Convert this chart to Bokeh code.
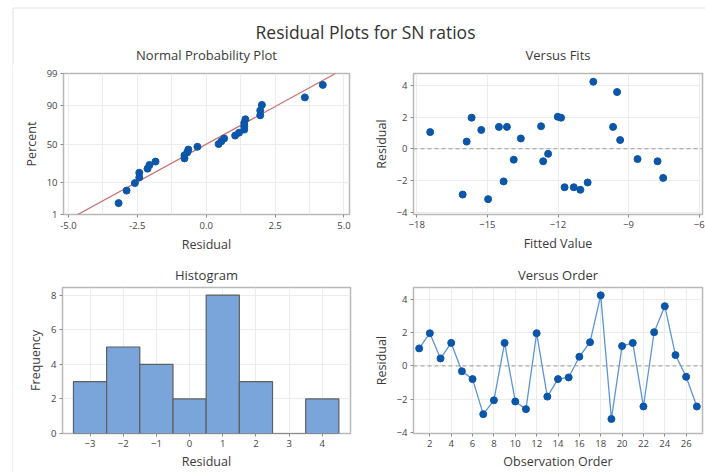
from statistics import NormalDist
import numpy as np
from bokeh.plotting import figure
from bokeh.layouts import column, row
from bokeh.models import Label, FixedTicker, Span
from bokeh.embed import file_html
from bokeh.resources import INLINE

# ---------------- data ----------------
observation = list(range(1, 28))
residuals = [1.05, 1.96, 0.45, 1.38, -0.32, -0.79, -2.89, -2.06, 1.38, -2.13,
             -2.59, 1.96, -1.84, -0.79, -0.69, 0.55, 1.42, 4.23, -3.18, 1.19,
             1.38, -2.43, 2.02, 3.58, 0.65, -0.65, -2.43]
fitted = [-17.43, -15.67, -15.88, -14.51, -12.42, -12.63, -16.05, -14.31, -14.17, -10.74,
          -11.05, -11.87, -7.53, -7.77, -13.88, -9.36, -12.72, -10.50, -14.97, -15.26,
          -9.66, -11.72, -12.01, -9.49, -13.58, -8.62, -11.33]
hist_centers = [-3, -2, -1, 0, 1, 2, 3, 4]
hist_counts = [3, 5, 4, 2, 8, 3, 0, 2]
prob_ticks = [1, 10, 50, 90, 99]
prob_x_ticks = [-5.0, -2.5, 0.0, 2.5, 5.0]
fits_x_ticks = [-18, -15, -12, -9, -6]
resid_ticks = [-4, -2, 0, 2, 4]
order_ticks = [2, 4, 6, 8, 10, 12, 14, 16, 18, 20, 22, 24, 26]
freq_ticks = [0, 2, 4, 6, 8]

FONT = "Open Sans"
TXT = "#3a3a3a"
MARK = "#0b56a8"
GRID = "#ececec"
FRAME = "#b8b8b8"
EDGE = "#e2e2e2"


def style(p, title=None):
    if title is not None:
        p.title.text = title
        p.title.align = "center"
        p.title.text_font = FONT
        p.title.text_font_size = "13px"
        p.title.text_font_style = "normal"
        p.title.text_color = TXT
        p.title.standoff = 8
    p.outline_line_color = FRAME
    p.outline_line_width = 1.5
    for ax in (p.xaxis[0], p.yaxis[0]):
        ax.axis_line_color = None
        ax.major_tick_line_color = "#8a8a8a"
        ax.major_tick_in = 0
        ax.major_tick_out = 3
        ax.minor_tick_line_color = None
        ax.major_label_text_font = FONT
        ax.major_label_text_font_size = "9.5px"
        ax.major_label_text_color = "#444444"
        ax.axis_label_text_font = FONT
        ax.axis_label_text_font_size = "12.5px"
        ax.axis_label_text_font_style = "normal"
        ax.axis_label_text_color = TXT
        ax.major_label_standoff = 3
        ax.axis_label_standoff = 4
    p.xgrid.grid_line_color = GRID
    p.ygrid.grid_line_color = GRID
    p.background_fill_color = "white"
    p.border_fill_color = "white"


EW = 13            # left strip carrying the faint outer border
LW, RW = 360 - EW, 345
TITLE_H, TH, BH = 64, 194, 214
W = EW + LW + RW

# ---------------- header: main title + top-row subplot titles ----------------
pt = figure(width=W, height=TITLE_H, x_range=(0, W), y_range=(TITLE_H, 0),
            x_axis_type=None, y_axis_type=None, toolbar_location=None,
            output_backend="svg", min_border=0)
pt.outline_line_color = None
pt.grid.visible = False
pt.line([12.5, 12.5, W], [TITLE_H, 7.5, 7.5], line_color=EDGE, line_width=1)
pt.add_layout(Label(x=365, y=31, text="Residual Plots for SN ratios",
                    text_align="center", text_baseline="middle",
                    text_font=FONT, text_font_size="17.5px", text_color="#333333"))
for cx, txt in [(206, "Normal Probability Plot"), (557.5, "Versus Fits")]:
    pt.add_layout(Label(x=cx, y=54.5, text=txt, text_align="center", text_baseline="middle",
                        text_font=FONT, text_font_size="13px", text_color=TXT))

# left edge strip
pe = figure(width=EW, height=TH + BH, x_range=(0, EW), y_range=(0, 1),
            x_axis_type=None, y_axis_type=None, toolbar_location=None,
            output_backend="svg", min_border=0)
pe.outline_line_color = None
pe.grid.visible = False
pe.line([12.5, 12.5], [0, 1], line_color=EDGE, line_width=1)

# ---------------- normal probability plot ----------------
nd = NormalDist()
n = len(residuals)
sorted_res = sorted(residuals)
z_pos = [nd.inv_cdf((i + 1 - 0.3) / (n + 0.4)) for i in range(n)]
mu = float(np.mean(residuals))
sd = float(np.std(residuals, ddof=1))
zlo, zhi = nd.inv_cdf(0.01), nd.inv_cdf(0.99)

TOP_B = 73 - TITLE_H
p1 = figure(width=LW, height=TH, x_range=(-5.18, 5.2), y_range=(zlo, zhi),
            toolbar_location=None, output_backend="svg",
            min_border_left=63 - EW, min_border_right=11, min_border_top=TOP_B, min_border_bottom=44)
style(p1)
p1.xaxis.axis_label = "Residual"
p1.yaxis.axis_label = "Percent"
p1.xaxis.ticker = FixedTicker(ticks=prob_x_ticks,
                              minor_ticks=[-3.75, -1.25, 1.25, 3.75])
p1.xaxis.major_label_overrides = {t: f"{t:.1f}" for t in prob_x_ticks}
p1.xgrid.minor_grid_line_color = GRID
zt = [nd.inv_cdf(t / 100) for t in prob_ticks]
p1.yaxis.ticker = FixedTicker(ticks=zt)
p1.yaxis.major_label_overrides = {z: str(t) for z, t in zip(zt, prob_ticks)}
p1.line([mu + sd * zlo, mu + sd * zhi], [zlo, zhi], line_color="#cc6d6d", line_width=1.2)
p1.scatter(sorted_res, z_pos, size=7, color=MARK)

# ---------------- versus fits ----------------
p2 = figure(width=RW, height=TH, x_range=(-18.14, -5.86), y_range=(-4.15, 4.75),
            toolbar_location=None, output_backend="svg",
            min_border_left=53, min_border_right=3, min_border_top=TOP_B, min_border_bottom=44)
style(p2)
p2.xaxis.axis_label = "Fitted Value"
p2.yaxis.axis_label = "Residual"
p2.xaxis.ticker = FixedTicker(ticks=fits_x_ticks)
p2.yaxis.ticker = FixedTicker(ticks=resid_ticks)
p2.add_layout(Span(location=0, dimension="width", line_color="#9a9a9a",
                   line_dash="4 3", line_width=1))
p2.scatter(fitted, residuals, size=7, color=MARK)

# ---------------- histogram ----------------
p3 = figure(width=LW, height=BH, x_range=(-3.83, 4.85), y_range=(0, 8.44),
            toolbar_location=None, output_backend="svg",
            min_border_left=62 - EW, min_border_right=10, min_border_top=29, min_border_bottom=37)
style(p3, "Histogram")
p3.xaxis.axis_label = "Residual"
p3.yaxis.axis_label = "Frequency"
p3.xaxis.ticker = FixedTicker(ticks=hist_centers)
p3.yaxis.ticker = FixedTicker(ticks=freq_ticks)
p3.xaxis.axis_label_standoff = 3
p3.vbar(x=hist_centers, top=hist_counts, width=1, bottom=0,
        fill_color="#7aa5da", line_color="#5f5f5f", line_width=1.2)

# ---------------- versus order ----------------
p4 = figure(width=RW, height=BH, x_range=(0.47, 27.53), y_range=(-4.05, 4.7),
            toolbar_location=None, output_backend="svg",
            min_border_left=53, min_border_right=3, min_border_top=29, min_border_bottom=37)
style(p4, "Versus Order")
p4.xaxis.axis_label = "Observation Order"
p4.yaxis.axis_label = "Residual"
p4.xaxis.ticker = FixedTicker(ticks=order_ticks)
p4.yaxis.ticker = FixedTicker(ticks=resid_ticks)
p4.xaxis.axis_label_standoff = 3
p4.add_layout(Span(location=0, dimension="width", line_color="#9a9a9a",
                   line_dash="4 3", line_width=1))
p4.line(observation, residuals, line_color="#5b95d6", line_width=1.3)
p4.scatter(observation, residuals, size=7, color=MARK)

layout = column(pt, row(pe, column(row(p1, p2), row(p3, p4))))
open("out.html", "w").write(file_html(layout, INLINE))
